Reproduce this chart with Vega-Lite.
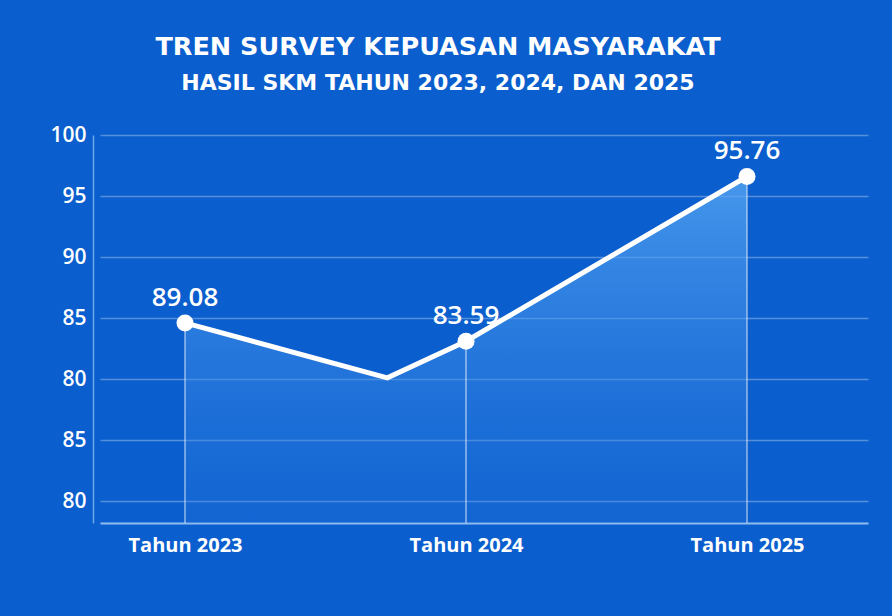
{
  "$schema": "https://vega.github.io/schema/vega-lite/v6.json",
  "autosize": {"type": "none"},
  "width": 768,
  "height": 388,
  "padding": {"left": 100, "top": 135, "right": 24, "bottom": 93},
  "background": "#0b5ecd",
  "config": {
    "font": "Open Sans",
    "view": {"stroke": null},
    "axis": {"labelFont": "Open Sans", "labelColor": "#ffffff"}
  },
  "title": {
    "text": "TREN SURVEY KEPUASAN MASYARAKAT",
    "subtitle": "HASIL SKM TAHUN 2023, 2024, DAN 2025",
    "anchor": "middle",
    "frame": "group",
    "dx": -46,
    "offset": 30,
    "color": "#ffffff",
    "fontSize": 25.5,
    "fontWeight": "bold",
    "font": "DejaVu Sans",
    "subtitleColor": "#ffffff",
    "subtitleFont": "DejaVu Sans",
    "subtitleFontSize": 22,
    "subtitleFontWeight": "bold",
    "subtitlePadding": 13
  },
  "data": {
    "values": [
      {"year": 2023, "value": 84.6, "label": "89.08"},
      {"year": 2023.72, "value": 80.1, "label": ""},
      {"year": 2024, "value": 83.1, "label": "83.59"},
      {"year": 2025, "value": 96.6, "label": "95.76"}
    ]
  },
  "encoding": {
    "x": {
      "field": "year",
      "type": "quantitative",
      "scale": {"domain": [2022.6975, 2025.4306], "nice": false, "zero": false},
      "axis": {
        "values": [2023, 2024, 2025],
        "labelExpr": "'Tahun ' + format(datum.value, 'd')",
        "title": null,
        "grid": false,
        "ticks": false,
        "domain": true,
        "domainColor": "#8fbdf0",
        "domainWidth": 2,
        "labelFontSize": 20,
        "labelFontWeight": "bold",
        "labelPadding": 12
      }
    },
    "y": {
      "field": "value",
      "type": "quantitative",
      "scale": {"domain": [68.2, 100], "nice": false, "zero": false},
      "axis": {
        "values": [70, 75, 80, 85, 90, 95, 100],
        "labelExpr": "datum.value == 70 ? '80' : datum.value == 75 ? '85' : datum.label",
        "title": null,
        "offset": 7,
        "ticks": false,
        "domain": true,
        "domainColor": "#6ea6ea",
        "domainWidth": 1.5,
        "grid": true,
        "gridColor": "#ffffff",
        "gridOpacity": 0.3,
        "gridWidth": 1.5,
        "labelFontSize": 21,
        "labelFontWeight": 600,
        "labelPadding": 7
      }
    }
  },
  "layer": [
    {
      "mark": {
        "type": "area",
        "color": {
          "gradient": "linear",
          "x1": 0, "y1": 0, "x2": 0, "y2": 1,
          "stops": [
            {"offset": 0, "color": "rgba(90,170,245,0.75)"},
            {"offset": 1, "color": "rgba(40,120,225,0.25)"}
          ]
        }
      },
      "encoding": {"y2": {"datum": 68.2}}
    },
    {
      "transform": [{"filter": "datum.label != ''"}],
      "mark": {"type": "rule", "color": "#ffffff", "opacity": 0.55, "strokeWidth": 1.5},
      "encoding": {"y2": {"datum": 68.2}}
    },
    {
      "mark": {"type": "line", "color": "#ffffff", "strokeWidth": 5, "strokeJoin": "miter"},
      "encoding": {}
    },
    {
      "transform": [{"filter": "datum.label != ''"}],
      "mark": {"type": "point", "filled": true, "color": "#ffffff", "opacity": 1, "size": 290},
      "encoding": {}
    },
    {
      "transform": [{"filter": "datum.label != ''"}],
      "mark": {"type": "text", "color": "#ffffff", "fontSize": 26, "fontWeight": 600, "dy": -17, "baseline": "alphabetic"},
      "encoding": {"text": {"field": "label"}}
    }
  ]
}
